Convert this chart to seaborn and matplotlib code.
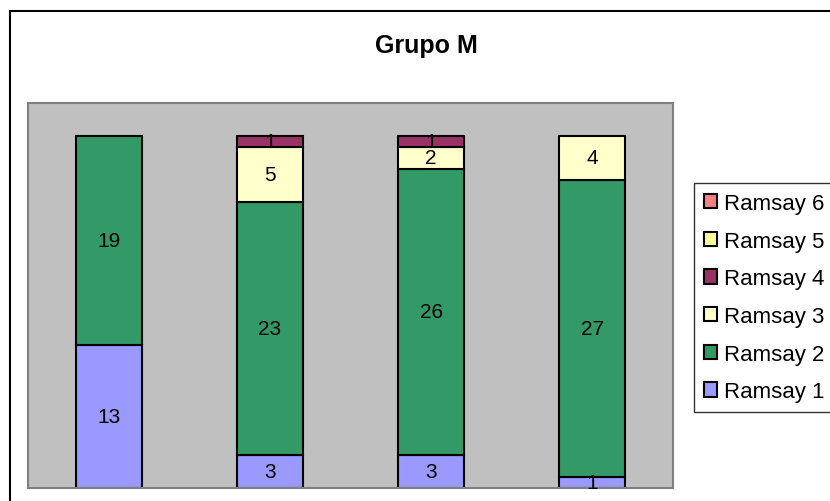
import numpy as np
import pandas as pd
import seaborn as sns
import matplotlib.pyplot as plt
from matplotlib.patches import Rectangle, Patch

# data
groups = ['1', '2', '3', '4']
series = ['Ramsay 1', 'Ramsay 2', 'Ramsay 3', 'Ramsay 4', 'Ramsay 5', 'Ramsay 6']
ramsay1 = [13, 3, 3, 1]
ramsay2 = [19, 23, 26, 27]
ramsay3 = [0, 5, 2, 4]
ramsay4 = [0, 1, 1, 0]
ramsay5 = [0, 0, 0, 0]
ramsay6 = [0, 0, 0, 0]
colors = ['#9999FF', '#339966', '#FFFFCC', '#993366', '#FFFF99', '#FF8080']

sns.set_style('white')
plt.rcParams['font.family'] = ['Liberation Sans', 'DejaVu Sans']
plt.rcParams['text.color'] = 'black'

fig = plt.figure(figsize=(8.3, 5.02), dpi=100)
ax = fig.add_axes([28/830, 13/502, 645/830, 385/502])
ax.set_facecolor('#C0C0C0')
for s in ax.spines.values():
    s.set_color('#808080')
    s.set_linewidth(1.5)

values = [ramsay1, ramsay2, ramsay3, ramsay4, ramsay5, ramsay6]
bottom = np.zeros(len(groups))
for name, vals, col in zip(series, values, colors):
    vals = np.array(vals, dtype=float)
    df = pd.DataFrame({'grupo': groups, 'n': vals, 'base': bottom})
    df = df[df['n'] > 0]
    if len(df):
        sns.barplot(data=df, x='grupo', y='n', order=groups, bottom=df['base'].values,
                    color=col, width=0.41, edgecolor='black', linewidth=1.5,
                    saturation=1, ax=ax)
        # value labels in the middle of each segment
        for _, r in df.iterrows():
            ax.text(groups.index(r['grupo']), r['base'] + r['n'] / 2, f"{int(r['n'])}",
                    ha='center', va='center', fontsize=15, color='black')
    bottom = bottom + vals

ax.set_ylim(0, 35)
ax.set_xlim(-0.5, len(groups) - 0.5)
ax.set_xticks([])
ax.set_yticks([])
ax.set_xlabel('')
ax.set_ylabel('')

fig.text(426/830, 1 - 46/502, 'Grupo M', ha='center', va='center',
         fontsize=18, fontweight='bold', color='black')

handles = [Patch(facecolor=c, edgecolor='black', linewidth=1.5) for c in colors]
leg = fig.legend(handles[::-1], series[::-1], loc='upper left',
                 bbox_to_anchor=(694/830, 1 - 184/502), fontsize=16,
                 frameon=True, fancybox=False, shadow=False,
                 handlelength=0.6, handleheight=0.6, handletextpad=0.3,
                 labelspacing=0.75, borderpad=0.45, borderaxespad=0)
leg.get_frame().set_edgecolor('black')
leg.get_frame().set_linewidth(1)

# outer chart frame, running off the right and bottom edges
fig.patches.append(Rectangle((10/830, -0.2), 1.2, 0.2 + 1 - 12/502,
                             transform=fig.transFigure, fill=False,
                             edgecolor='black', linewidth=1.5))

fig.savefig('out.png', dpi=100)
